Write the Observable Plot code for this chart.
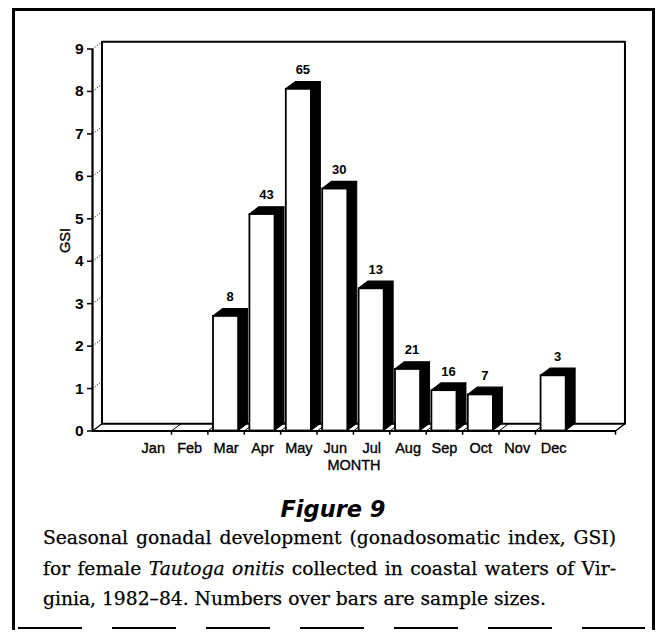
<!DOCTYPE html>
<html><head><meta charset="utf-8">
<script src="https://cdn.jsdelivr.net/npm/d3@7"></script>
<script src="https://cdn.jsdelivr.net/npm/@observablehq/plot@0.6"></script>
<style>
html,body{margin:0;padding:0;background:#fff;}
body{width:659px;height:635px;overflow:hidden;position:relative;font-family:"Liberation Sans",Arial,sans-serif;}
#frame{position:absolute;left:12px;top:8px;width:637px;height:619px;border:3px solid #000;border-bottom:none;}
#chart{position:absolute;left:0;top:0;}
#fig{position:absolute;left:0;width:666px;top:496px;text-align:center;font:italic bold 22.5px "DejaVu Sans",sans-serif;color:#000;}
#cap{position:absolute;left:43px;width:573px;top:523px;font:18.7px/30.5px "DejaVu Serif",serif;color:#000;-webkit-text-stroke:0.25px #000;}
#cap .j{text-align:justify;text-align-last:justify;white-space:nowrap;}
#dash{position:absolute;left:0;top:622px;}
</style></head>
<body>
<div id="frame"></div>
<div id="chart"></div>
<div id="fig">Figure 9</div>
<div id="cap">
<div class="j">Seasonal gonadal development (gonadosomatic index, GSI)</div>
<div class="j">for female <i>Tautoga onitis</i> collected in coastal waters of Vir-</div>
<div>ginia, 1982–84. Numbers over bars are sample sizes.</div>
</div>
<svg id="dash" width="659" height="12"><line x1="18" x2="645" y1="6" y2="6" stroke="#000" stroke-width="2" stroke-dasharray="64 30"/></svg>
<script>
// ---- data ----
const months = ["Jan","Feb","Mar","Apr","May","Jun","Jul","Aug","Sep","Oct","Nov","Dec"];
const gsi = [0, 0, 2.7, 5.1, 8.05, 5.7, 3.35, 1.45, 0.95, 0.85, 0, 1.3];
const sampleSizes = [null, null, 8, 43, 65, 30, 13, 21, 16, 7, null, 3];
const yTicks = [0,1,2,3,4,5,6,7,8,9];

// ---- layout constants (styles, not data) ----
const XMIN = -1.67, XMAX = 12.7;   // x extent of the floor in month units
const DX = 0.26, DY = 0.17;        // 3D depth offset in data units
const HW = 0.345;                  // half width of bar front face

const bars = months.map((m, i) => ({m, i, v: gsi[i], n: sampleSizes[i]})).filter(d => d.v > 0);
const sideData = bars.flatMap(d => [
  {i: d.i, x: d.i + HW, y1: 0, y2: d.v},
  {i: d.i, x: d.i + HW + DX, y1: DY, y2: d.v + DY}
]);
const topData = bars.flatMap(d => [
  {i: d.i, y: d.v, x1: d.i - HW, x2: d.i + HW},
  {i: d.i, y: d.v + DY, x1: d.i - HW + DX, x2: d.i + HW + DX}
]);
const xTickPos = months.slice(0, 11).map((m, i) => i + 0.5).concat([XMAX]);
const wall = [[XMIN + DX, DY], [XMIN + DX, 9 + DY], [XMAX + DX, 9 + DY], [XMAX + DX, DY], [XMIN + DX, DY]];
const ink = {fill: "#000", stroke: "#000", strokeWidth: 0.35};

const chart = Plot.plot({
  width: 659, height: 480,
  marginLeft: 92, marginRight: 44, marginTop: 48.5, marginBottom: 49.5,
  style: {fontFamily: "Liberation Sans, Arial, sans-serif", fontSize: "14px", color: "#000", background: "transparent", overflow: "visible"},
  x: {domain: [XMIN, XMAX], axis: null},
  y: {domain: [0, 9], axis: null},
  marks: [
    Plot.line(wall, {stroke: "#000", strokeWidth: 2}),
    Plot.line([[XMIN, 0], [XMIN + DX, DY]], {stroke: "#000", strokeWidth: 1.2}),
    Plot.line([[XMAX, 0], [XMAX + DX, DY]], {stroke: "#000", strokeWidth: 1.2}),
    Plot.link(yTicks.slice(1), {x1: XMIN, y1: d => d, x2: XMIN + DX, y2: d => d + DY, stroke: "#000", strokeWidth: 0.9, strokeDasharray: "1.2,1.6"}),
    Plot.link(xTickPos, {x1: d => d, y1: 0, x2: d => d + DX, y2: DY, stroke: "#000", strokeWidth: 1}),
    Plot.areaY(sideData, {x: "x", y1: "y1", y2: "y2", z: "i", fill: "#000", stroke: "#000", strokeWidth: 1}),
    Plot.areaX(topData, {y: "y", x1: "x1", x2: "x2", z: "i", fill: "#000", stroke: "#000", strokeWidth: 1.2}),
    Plot.rect(bars, {x1: d => d.i - HW, x2: d => d.i + HW, y1: 0, y2: "v", fill: "#fff", stroke: "#000", strokeWidth: 1.8}),
    Plot.ruleY([0], {x1: XMIN, x2: XMAX, stroke: "#000", strokeWidth: 2.2}),
    Plot.ruleX([XMIN], {y1: 0, y2: 9, stroke: "#000", strokeWidth: 2.2}),
    Plot.ruleX(xTickPos, {y1: 0, y2: -0.1, stroke: "#000", strokeWidth: 1.5}),
    Plot.axisY({ticks: yTicks, tickSize: 5, tickPadding: 4, fontSize: 15.5, fontWeight: "bold", label: null, strokeWidth: 1.5}),
    Plot.text(months, {x: (d, i) => i, y: 0, dy: 17, text: d => d, fontSize: 14.5, ...ink}),
    Plot.text(["MONTH"], {x: (XMIN + XMAX) / 2, y: 0, dy: 34, text: d => d, fontSize: 14.5, ...ink}),
    Plot.text(["GSI"], {x: XMIN, y: 4.49, dx: -27, rotate: -90, text: d => d, fontSize: 14.5, ...ink}),
    Plot.text(bars, {x: d => d.i + 0.11, y: d => d.v + DY, dy: -12, text: "n", fontSize: 13, fontWeight: "bold"})
  ]
});
document.getElementById("chart").appendChild(chart);
</script>
</body></html>
